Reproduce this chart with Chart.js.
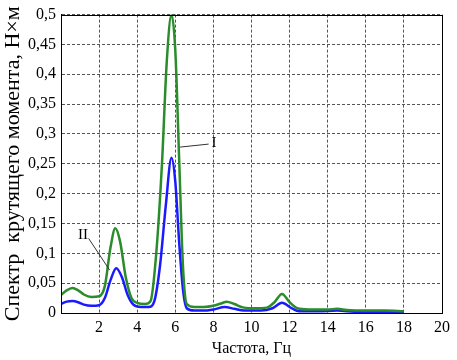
<!DOCTYPE html>
<html><head><meta charset="utf-8">
<script src="https://cdn.jsdelivr.net/npm/chart.js@4/dist/chart.umd.min.js"></script>
<style>html,body{margin:0;padding:0;background:#fff}#c{display:block}</style>
</head><body>
<canvas id="c" width="457" height="360"></canvas>
<script>
// Series I (green)
const freqI = [0,0.3,0.6,0.9,1.2,1.6,2.0,2.3,2.6,2.85,3.1,3.4,3.7,4.0,4.4,4.7,5.0,5.3,5.55,5.8,6.0,6.2,6.4,6.6,7.0,7.5,8.0,8.4,8.7,9.1,9.6,10.2,10.8,11.2,11.6,12.0,12.4,13,14,14.5,15,16,17,18];
const valI  = [0.030,0.038,0.042,0.038,0.031,0.027,0.028,0.045,0.11,0.142,0.12,0.06,0.025,0.017,0.015,0.02,0.10,0.25,0.42,0.50,0.44,0.26,0.08,0.015,0.010,0.010,0.012,0.016,0.019,0.015,0.009,0.008,0.009,0.018,0.032,0.018,0.008,0.006,0.006,0.007,0.005,0.004,0.004,0.003];
// Series II (blue)
const freqII = [0,0.3,0.6,0.9,1.2,1.6,2.0,2.3,2.6,2.9,3.2,3.5,3.8,4.2,4.6,4.9,5.2,5.5,5.8,6.0,6.2,6.4,6.6,7,7.5,8,8.6,9.1,9.6,10.5,11.1,11.6,12.1,12.5,13.5,14.5,15.5,17,18];
const valII  = [0.015,0.019,0.020,0.018,0.014,0.012,0.013,0.025,0.055,0.075,0.06,0.03,0.014,0.010,0.010,0.02,0.08,0.18,0.26,0.22,0.12,0.04,0.008,0.004,0.004,0.006,0.010,0.007,0.004,0.004,0.008,0.017,0.008,0.003,0.003,0.004,0.002,0.002,0.002];
const labelI = "I", labelII = "II";
const xTitle = "Частота, Гц";
const yTitle = "Спектр  крутящего момента, Н×м";

const toPts = (xs, ys) => xs.map((x, i) => ({x, y: ys[i]}));
const FONT = "'Liberation Serif', 'Times New Roman', serif";

const frame = {
  id: 'frame',
  afterDatasetsDraw(chart) {
    const {ctx, chartArea: a, scales: {x, y}} = chart;
    ctx.save();
    ctx.strokeStyle = '#000'; ctx.lineWidth = 1;
    ctx.strokeRect(Math.round(a.left)+0.5, Math.round(a.top)+0.5, Math.round(a.right-a.left), Math.round(a.bottom-a.top));
    // annotations
    ctx.strokeStyle = '#333'; ctx.lineWidth = 1;
    ctx.beginPath();
    ctx.moveTo(x.getPixelForValue(6.25), y.getPixelForValue(0.278));
    ctx.lineTo(x.getPixelForValue(7.75), y.getPixelForValue(0.283));
    ctx.moveTo(x.getPixelForValue(1.45), y.getPixelForValue(0.125));
    ctx.lineTo(x.getPixelForValue(2.55), y.getPixelForValue(0.072));
    ctx.stroke();
    ctx.fillStyle = '#000';
    ctx.font = "15px " + FONT;
    ctx.textBaseline = 'middle';
    ctx.textAlign = 'left';
    ctx.fillText(labelI, x.getPixelForValue(7.9), y.getPixelForValue(0.285));
    ctx.textAlign = 'center';
    ctx.fillText(labelII, x.getPixelForValue(1.15), y.getPixelForValue(0.13));
    ctx.restore();
  }
};

new Chart(document.getElementById('c'), {
  type: 'line',
  data: {
    datasets: [
      {label: labelI, data: toPts(freqI, valI), borderColor: '#2a8c2a', borderWidth: 2.5, pointRadius: 0, tension: 0.4, cubicInterpolationMode: 'monotone'},
      {label: labelII, data: toPts(freqII, valII), borderColor: '#1a1aff', borderWidth: 2.5, pointRadius: 0, tension: 0.4, cubicInterpolationMode: 'monotone'}
    ]
  },
  options: {
    responsive: false, animation: false,
    layout: {padding: {left: 0, top: 12, right: 15, bottom: 0}},
    plugins: {legend: {display: false}, tooltip: {enabled: false}},
    scales: {
      x: {
        type: 'linear', min: 0, max: 20,
        afterFit(s) { s.height = 47; },
        ticks: {stepSize: 2, color: '#000', font: {family: FONT, size: 16}, padding: 5, maxRotation: 0,
          callback: v => v === 0 ? '' : String(v)},
        grid: {color: '#555', lineWidth: 1, drawTicks: false},
        border: {display: true, color: '#000', dash: [3, 2]},
        title: {display: true, text: xTitle, color: '#000', font: {family: FONT, size: 16}, padding: {top: 0, bottom: 2}}
      },
      y: {
        min: 0, max: 0.5,
        afterFit(s) { s.width = 61; },
        ticks: {stepSize: 0.05, color: '#000', font: {family: FONT, size: 16}, padding: 5,
          callback: v => (Math.round(v * 100) / 100).toString().replace('.', ',')},
        grid: {color: '#555', lineWidth: 1, drawTicks: false},
        border: {display: true, color: '#000', dash: [3, 2]},
        title: {display: true, text: yTitle, color: '#000', font: {family: FONT, size: 22}, padding: {top: 0, bottom: 0}}
      }
    }
  },
  plugins: [frame]
});
</script>
</body></html>
